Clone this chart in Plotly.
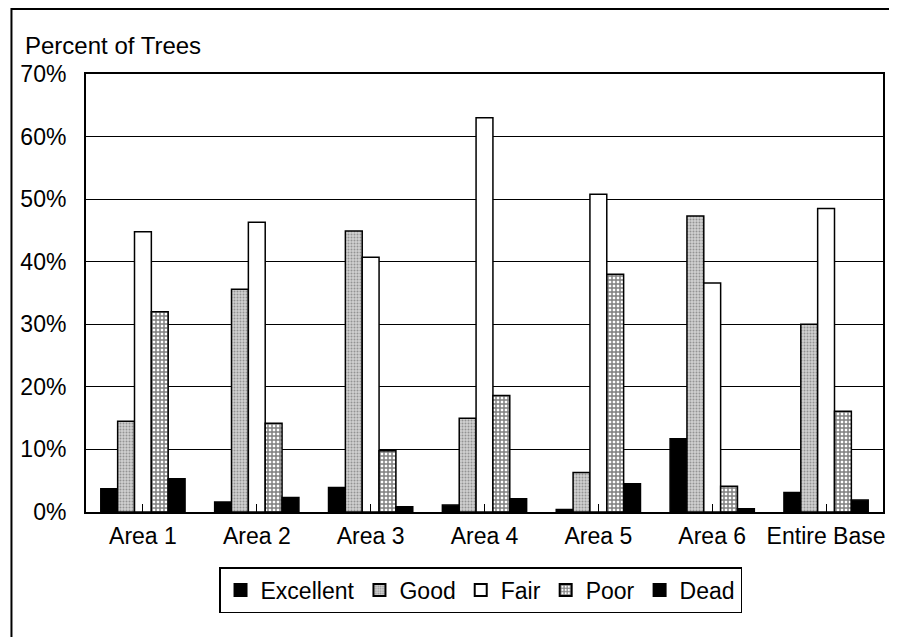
import plotly.graph_objects as go

categories = ["Area 1", "Area 2", "Area 3", "Area 4", "Area 5", "Area 6", "Entire Base"]
excellent = [3.7, 1.6, 3.9, 1.1, 0.4, 11.7, 3.1]
good = [14.5, 35.6, 44.9, 15.0, 6.3, 47.3, 30.0]
fair = [44.8, 46.3, 40.7, 63.0, 50.8, 36.6, 48.5]
poor = [32.0, 14.2, 9.8, 18.6, 38.0, 4.1, 16.1]
dead = [5.3, 2.3, 0.85, 2.1, 4.5, 0.5, 1.9]
y_ticks = [0, 10, 20, 30, 40, 50, 60, 70]
y_tick_labels = [f"{v}%" for v in y_ticks]

OFF = 8  # page body margin offset
W, H = 897 - OFF, 637 - OFF
L, R, T, B = 83 - OFF, 885 - OFF, 74 - OFF, 512 - OFF
pw, ph = R - L, B - T

def px_x(x):
    return (x - OFF - L) / pw

def px_y(y):
    return (B - (y - OFF)) / ph

FONT = "Liberation Sans, Arial, sans-serif"
FS = 23
line = dict(color="black", width=1.5)

fig = go.Figure()
fig.add_bar(name="Excellent", x=categories, y=excellent,
            marker=dict(color="black", line=line))
fig.add_bar(name="Good", x=categories, y=good,
            marker=dict(color="#c8c8c8", line=line,
                        pattern=dict(shape=".", fgcolor="#555555", bgcolor="#d0d0d0",
                                     size=3, solidity=0.35)))
fig.add_bar(name="Fair", x=categories, y=fair,
            marker=dict(color="white", line=line))
fig.add_bar(name="Poor", x=categories, y=poor,
            marker=dict(color="white", line=line,
                        pattern=dict(shape="+", fgcolor="black", bgcolor="white",
                                     size=4, solidity=0.6)))
fig.add_bar(name="Dead", x=categories, y=dead,
            marker=dict(color="black", line=line))

fig.update_layout(
    width=W, height=H,
    margin=dict(l=L, r=W - R, t=T, b=H - B, pad=0),
    paper_bgcolor="white", plot_bgcolor="white",
    barmode="group", bargap=0.26, bargroupgap=0,
    font=dict(family=FONT, size=FS, color="black"),
    showlegend=True,
    legend=dict(orientation="h", x=px_x(480), xanchor="center",
                y=px_y(567), yanchor="top",
                bordercolor="black", borderwidth=1.5,
                font=dict(size=FS, family=FONT),
                itemsizing="constant", traceorder="normal",
                itemwidth=30, tracegroupgap=0),
    annotations=[dict(text="Percent of Trees", xref="paper", yref="paper",
                      x=px_x(20), y=px_y(46), xanchor="left", yanchor="middle",
                      showarrow=False, font=dict(size=FS + 1, family=FONT))],
    shapes=[dict(type="rect", xref="paper", yref="paper",
                 x0=px_x(8), x1=px_x(894), y0=px_y(680), y1=px_y(9),
                 line=dict(color="black", width=2), fillcolor="rgba(0,0,0,0)",
                 layer="below")],
)
fig.update_xaxes(showline=True, linecolor="black", linewidth=2, mirror=True,
                 ticks="inside", ticklen=8, tickcolor="black",
                 showgrid=False, tickfont=dict(size=FS, family=FONT),
                 ticklabelstandoff=2)
fig.update_yaxes(range=[0, 70], tickvals=y_ticks, ticktext=y_tick_labels,
                 showline=True, linecolor="black", linewidth=2, mirror=True,
                 showgrid=True, gridcolor="black", gridwidth=1,
                 ticks="", tickfont=dict(size=FS, family=FONT),
                 ticklabelstandoff=13, zeroline=False)

fig.write_html("out.html")
